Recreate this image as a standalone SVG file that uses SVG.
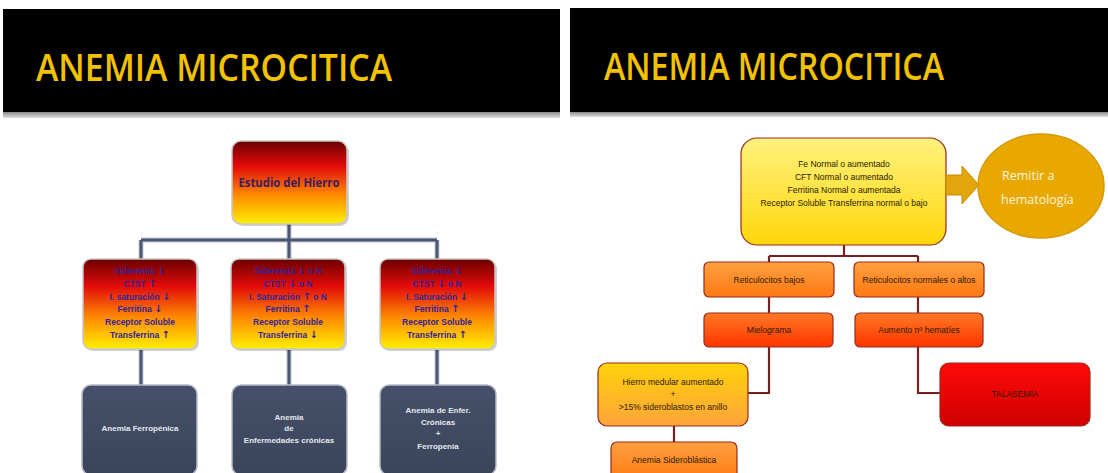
<svg xmlns="http://www.w3.org/2000/svg" width="1108" height="473" viewBox="0 0 1108 473">
<defs>
<linearGradient id="gHot" x1="0" y1="0" x2="0" y2="1">
<stop offset="0" stop-color="#6a0000"/>
<stop offset="0.3" stop-color="#e20a0a"/>
<stop offset="0.65" stop-color="#ff8a00"/>
<stop offset="1" stop-color="#fff000"/>
</linearGradient>
<linearGradient id="gSlate" x1="0" y1="0" x2="0" y2="1">
<stop offset="0" stop-color="#46506a"/>
<stop offset="1" stop-color="#3a4459"/>
</linearGradient>
<linearGradient id="gYel" x1="0" y1="0" x2="0" y2="1">
<stop offset="0" stop-color="#fff27e"/>
<stop offset="1" stop-color="#ffd60a"/>
</linearGradient>
<linearGradient id="gOr1" x1="0" y1="0" x2="0" y2="1">
<stop offset="0" stop-color="#ffa040"/>
<stop offset="1" stop-color="#ff7812"/>
</linearGradient>
<linearGradient id="gOr2" x1="0" y1="0" x2="0" y2="1">
<stop offset="0" stop-color="#ff7a24"/>
<stop offset="1" stop-color="#ff3400"/>
</linearGradient>
<linearGradient id="gYO" x1="0" y1="0" x2="0" y2="1">
<stop offset="0" stop-color="#ffd20a"/>
<stop offset="1" stop-color="#ffa43a"/>
</linearGradient>
<linearGradient id="gRed" x1="0" y1="0" x2="0" y2="1">
<stop offset="0" stop-color="#ff0a0a"/>
<stop offset="1" stop-color="#cf0000"/>
</linearGradient>
<linearGradient id="gBar" x1="0" y1="0" x2="0" y2="1">
<stop offset="0" stop-color="#8a8a8a"/>
<stop offset="1" stop-color="#e0e0e0"/>
</linearGradient>
</defs>
<style>
.title{font-family:"Open Sans","Noto Sans",sans-serif;font-weight:600;font-size:38px;fill:#f2c200;}
.hot{stroke:#c8c8c8;stroke-width:1.5;fill:url(#gHot);}
.slate{stroke:#b8bcc6;stroke-width:1.5;fill:url(#gSlate);}
.ht{font-family:"Liberation Sans",Arial,sans-serif;font-weight:bold;font-size:8.5px;fill:#33239a;text-anchor:middle;}
.ar{font-family:"DejaVu Sans",sans-serif;font-weight:bold;font-size:10px;}
.st{font-family:"Liberation Sans",Arial,sans-serif;font-weight:bold;font-size:8px;fill:#e6e8ee;text-anchor:middle;}
.lc{fill:none;stroke:#4b5673;stroke-width:3;}
.lcb{fill:none;stroke:#c4c9d4;stroke-width:5;}
.rb{stroke:#9a2a1a;stroke-width:1.2;}
.rt{font-family:"Liberation Sans",Arial,sans-serif;font-size:8.5px;fill:#2a1a00;text-anchor:middle;}
.rc{fill:none;stroke:#7a1e1e;stroke-width:2.2;}
.shadow{fill:#000;opacity:0.18;}
</style>

<rect x="0" y="0" width="1108" height="473" fill="#ffffff"/>

<!-- headers -->
<g id="header-left">
<rect x="3" y="9" width="557" height="103" fill="#000"/>
<rect x="3" y="112" width="557" height="6" fill="url(#gBar)"/>
<text class="title" x="36" y="81" textLength="356" lengthAdjust="spacingAndGlyphs">ANEMIA MICROCITICA</text>
</g>
<g id="header-right">
<rect x="570" y="8" width="538" height="104" fill="#000"/>
<rect x="570" y="112" width="538" height="5" fill="url(#gBar)"/>
<text class="title" x="604" y="80" textLength="340" lengthAdjust="spacingAndGlyphs">ANEMIA MICROCITICA</text>
</g>

<!-- connectors -->
<g id="connectors">
<path class="lcb" d="M289 224 V240 M141 240 H437 M141 240 V259 M289 240 V259 M437 240 V259 M141 350 V385 M289 350 V385 M437 350 V385"/>
<path class="lc" d="M289 224 V240 M141 240 H437 M141 240 V259 M289 240 V259 M437 240 V259 M141 350 V385 M289 350 V385 M437 350 V385"/>
<path class="rc" d="M844 245 V256 M769 256 H918 M769 256 V262 M918 256 V262 M769 297 V313 M918 297 V313 M769 347 V393 H748 M918 347 V393 H940 M674 426 V442"/>
</g>

<!-- left panel nodes -->
<g id="estudio">
<rect x="234" y="143" width="115" height="83" rx="9" class="shadow"/>
<rect x="232" y="141" width="115" height="83" rx="9" class="hot"/>
<text x="289" y="187" font-family="Open Sans,Noto Sans,sans-serif" font-weight="bold" font-size="11.5" fill="#3a1e5e" text-anchor="middle" textLength="101" lengthAdjust="spacingAndGlyphs">Estudio del Hierro</text>
</g>

<g id="perfil-1">
<rect x="85" y="261" width="114" height="90" rx="8" class="shadow"/>
<rect x="83" y="259" width="114" height="90" rx="8" class="hot"/>
<text class="ht" x="140" y="274">Sideremia  <tspan class="ar">↓</tspan></text>
<text class="ht" x="140" y="287">CTST  <tspan class="ar">↑</tspan></text>
<text class="ht" x="140" y="300">I. saturación  <tspan class="ar">↓</tspan></text>
<text class="ht" x="140" y="312">Ferritina  <tspan class="ar">↓</tspan></text>
<text class="ht" x="140" y="325">Receptor  Soluble</text>
<text class="ht" x="140" y="338">Transferrina  <tspan class="ar">↑</tspan></text>
</g>

<g id="perfil-2">
<rect x="233" y="261" width="114" height="90" rx="8" class="shadow"/>
<rect x="231" y="259" width="114" height="90" rx="8" class="hot"/>
<text class="ht" x="288" y="274">Sideremia  <tspan class="ar">↓</tspan> o N</text>
<text class="ht" x="288" y="287">CTST  <tspan class="ar">↓</tspan> o N</text>
<text class="ht" x="288" y="300">I. Saturación  <tspan class="ar">↑</tspan> o N</text>
<text class="ht" x="288" y="312">Ferritina  <tspan class="ar">↑</tspan></text>
<text class="ht" x="288" y="325">Receptor  Soluble</text>
<text class="ht" x="288" y="338">Transferrina  <tspan class="ar">↓</tspan></text>
</g>

<g id="perfil-3">
<rect x="382" y="261" width="115" height="90" rx="8" class="shadow"/>
<rect x="380" y="259" width="115" height="90" rx="8" class="hot"/>
<text class="ht" x="437" y="274">Sideremia  <tspan class="ar">↓</tspan></text>
<text class="ht" x="437" y="287">CTST  <tspan class="ar">↓</tspan> o N</text>
<text class="ht" x="437" y="300">I. Saturación  <tspan class="ar">↓</tspan></text>
<text class="ht" x="437" y="312">Ferritina  <tspan class="ar">↑</tspan></text>
<text class="ht" x="437" y="325">Receptor  Soluble</text>
<text class="ht" x="437" y="338">Transferrina  <tspan class="ar">↑</tspan></text>
</g>

<g id="ferropenica">
<rect x="82" y="385" width="115" height="90" rx="9" class="slate"/>
<text class="st" x="140" y="431">Anemia  Ferropénica</text>
</g>
<g id="cronicas">
<rect x="232" y="385" width="115" height="90" rx="9" class="slate"/>
<text class="st" x="289" y="420">Anemia</text>
<text class="st" x="289" y="431">de</text>
<text class="st" x="289" y="443">Enfermedades  crónicas</text>
</g>
<g id="cronicas-ferropenia">
<rect x="380" y="385" width="116" height="90" rx="9" class="slate"/>
<text class="st" x="438" y="413">Anemia  de  Enfer.</text>
<text class="st" x="438" y="425">Crónicas</text>
<text class="st" x="438" y="436">+</text>
<text class="st" x="438" y="449">Ferropenia</text>
</g>

<!-- right panel nodes -->
<g id="perfil-normal">
<rect x="741" y="138" width="205" height="107" rx="16" fill="url(#gYel)" class="rb"/>
<text class="rt" x="844" y="167">Fe Normal o aumentado</text>
<text class="rt" x="844" y="180">CFT Normal o aumentado</text>
<text class="rt" x="844" y="193">Ferritina Normal o aumentada</text>
<text class="rt" x="844" y="206">Receptor Soluble  Transferrina normal o bajo</text>
</g>

<g id="remitir">
<path d="M946 175 H962 V166 L979 185 L962 204 V195 H946 Z" fill="#e2a50c" stroke="#c88c00" stroke-width="1"/>
<ellipse cx="1041" cy="186" rx="63" ry="52" fill="#e8a800" stroke="#d49a08" stroke-width="1.5"/>
<text x="1002" y="180" font-family="Open Sans,Noto Sans,sans-serif" font-size="12.5" fill="#fff4dc">Remitir a</text>
<text x="1001" y="204" font-family="Open Sans,Noto Sans,sans-serif" font-size="12.5" fill="#fff4dc">hematología</text>
</g>

<g id="reti-bajos">
<rect x="704" y="262" width="130" height="35" rx="5" fill="url(#gOr1)" class="rb"/>
<text class="rt" x="769" y="283">Reticulocitos  bajos</text>
</g>
<g id="reti-altos">
<rect x="854" y="262" width="130" height="35" rx="5" fill="url(#gOr1)" class="rb"/>
<text class="rt" x="919" y="283">Reticulocitos  normales o  altos</text>
</g>
<g id="mielograma">
<rect x="704" y="313" width="129" height="34" rx="5" fill="url(#gOr2)" class="rb"/>
<text class="rt" x="769" y="333">Mielograma</text>
</g>
<g id="hematies">
<rect x="855" y="313" width="128" height="34" rx="5" fill="url(#gOr2)" class="rb"/>
<text class="rt" x="919" y="333">Aumento  nº  hematíes</text>
</g>
<g id="hierro-medular">
<rect x="598" y="363" width="150" height="63" rx="9" fill="url(#gYO)" class="rb"/>
<text class="rt" x="673" y="385">Hierro medular aumentado</text>
<text class="rt" x="673" y="397">+</text>
<text class="rt" x="673" y="410">&gt;15%  sideroblastos en anillo</text>
</g>
<g id="sideroblastica">
<rect x="611" y="442" width="126" height="40" rx="6" fill="url(#gOr1)" class="rb"/>
<text class="rt" x="674" y="463">Anemia  Sideroblástica</text>
</g>
<g id="talasemia">
<rect x="940" y="363" width="150" height="63" rx="9" fill="url(#gRed)" class="rb"/>
<text class="rt" x="1015" y="397" fill="#1a0000">TALASEMIA</text>
</g>
</svg>
